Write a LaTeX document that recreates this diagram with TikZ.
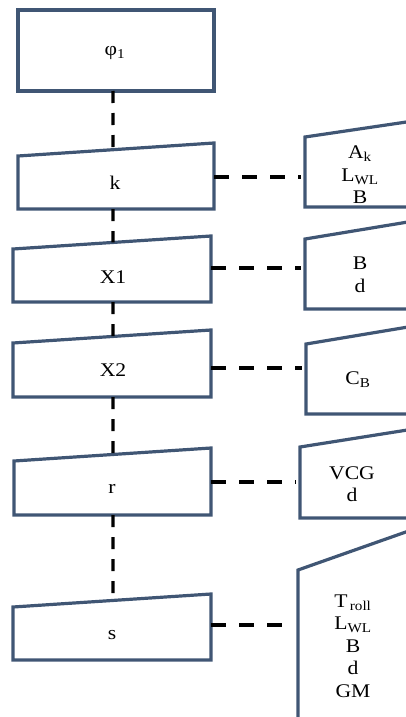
\documentclass[tikz,border=0pt]{standalone}
\usepackage{fontspec}
\setmainfont{Liberation Serif}[FakeStretch=1.12]
\usetikzlibrary{calc}
\definecolor{boxblue}{RGB}{64,86,116}
\begin{document}
\begin{tikzpicture}[x=0.75pt,y=-0.75pt,
  boxline/.style={draw=boxblue,line width=2.4pt,line join=miter},
  vlink/.style={draw=black,line width=2.4pt,dash pattern=on 9pt off 7.5pt},
  hlink/.style={draw=black,line width=2.4pt,dash pattern=on 11.25pt off 9.75pt},
  lbl/.style={font=\fontsize{14.5}{16.9}\selectfont,align=center,inner sep=0pt}]
\useasboundingbox (0,0) rectangle (406,717);

% chain of process boxes on the left
\draw[boxline] (18,10) rectangle (214,91);
\node[lbl] (phi) at (115,53) {φ\textsubscript{1}};
\coordinate (phi-s) at (113,91);

\draw[boxline] (18,156) coordinate (k-tl) -- (214,143) coordinate (k-tr)
  -- (214,209) -- (18,209) -- cycle;
\node[lbl] (k) at (115,183) {k};
\coordinate (k-s) at (113,209);
\coordinate (k-e) at (214,177);

\draw[boxline] (13,249) coordinate (x1-tl) -- (211,236) coordinate (x1-tr)
  -- (211,302) -- (13,302) -- cycle;
\node[lbl] (x1) at (113,277) {X1};
\coordinate (x1-s) at (113,302);
\coordinate (x1-e) at (211,268);

\draw[boxline] (13,343) coordinate (x2-tl) -- (211,330) coordinate (x2-tr)
  -- (211,397) -- (13,397) -- cycle;
\node[lbl] (x2) at (113,370) {X2};
\coordinate (x2-s) at (113,397);
\coordinate (x2-e) at (211,368);

\draw[boxline] (14,461) coordinate (r-tl) -- (211,448) coordinate (r-tr)
  -- (211,515) -- (14,515) -- cycle;
\node[lbl] (r) at (112,489) {r};
\coordinate (r-s) at (113,515);
\coordinate (r-e) at (211,482);

\draw[boxline] (13,607) coordinate (s-tl) -- (211,594) coordinate (s-tr)
  -- (211,660) -- (13,660) -- cycle;
\node[lbl] (s) at (112,635) {s};
\coordinate (s-e) at (211,625);

% vertical links between consecutive boxes
\draw[vlink] (phi-s) -- ($(k-tl)!0.485!(k-tr)$);
\draw[vlink] (k-s) -- ($(x1-tl)!0.505!(x1-tr)$);
\draw[vlink] (x1-s) -- ($(x2-tl)!0.505!(x2-tr)$);
\draw[vlink] (x2-s) -- ($(r-tl)!0.503!(r-tr)$);
\draw[vlink] (r-s) -- ($(s-tl)!0.505!(s-tr)$);

% parameter boxes on the right, running off the page edge
\begin{scope}
\clip (0,0) rectangle (406,717);
\draw[boxline] (420,120) -- (305,137) -- (305,207) -- (420,207);
\draw[boxline] (420,220) -- (305,239) -- (305,309) -- (420,309);
\draw[boxline] (420,325) -- (306,344) -- (306,414) -- (420,414);
\draw[boxline] (420,428) -- (300,447) -- (300,518) -- (420,518);
\draw[boxline] (420,527) -- (298,570) -- (298,730);
\end{scope}
\coordinate (p1-w) at (301,177);
\coordinate (p2-w) at (301,268);
\coordinate (p3-w) at (302,368);
\coordinate (p4-w) at (296,482);
\coordinate (p5-w) at (294,625);

\node[lbl] (p1) at (360,175) {A\textsubscript{k}\\L\textsubscript{WL}\\B};
\node[lbl] (p2) at (360,275) {B\\d};
\node[lbl] (p3) at (358,380) {C\textsubscript{B}};
\node[lbl] (p4) at (352,484) {VCG\\d};
\node[lbl] (p5) at (353,646) {T\textsubscript{\,roll}\\L\textsubscript{WL}\\B\\d\\GM};

% horizontal links to the parameter boxes
\draw[hlink] (k-e) -- (p1-w);
\draw[hlink] (x1-e) -- (p2-w);
\draw[hlink] (x2-e) -- (p3-w);
\draw[hlink] (r-e) -- (p4-w);
\draw[hlink] (s-e) -- (p5-w);
\end{tikzpicture}
\end{document}
